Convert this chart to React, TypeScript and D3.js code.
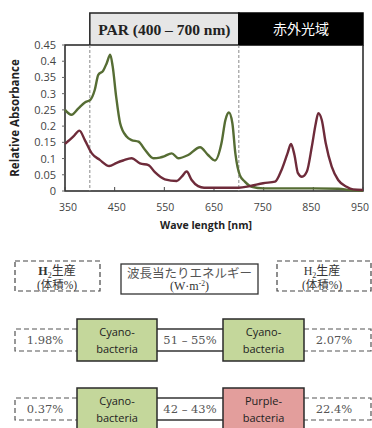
import React from "react";
import * as d3 from "d3";

const width = 372;
const height = 428;

// absorbance spectra
const cyanoNm = [350, 363, 377, 390, 401, 410, 417, 427, 434, 441, 446, 453, 461, 474, 484, 498, 511, 528, 541, 548, 565, 578, 598, 622, 638, 652, 665, 673, 680, 687, 693, 702, 712, 726, 750, 800, 850, 900, 930, 950];
const cyanoAbs = [0.25, 0.235, 0.255, 0.273, 0.281, 0.312, 0.358, 0.371, 0.394, 0.42, 0.384, 0.291, 0.209, 0.168, 0.157, 0.152, 0.127, 0.101, 0.103, 0.106, 0.116, 0.101, 0.111, 0.135, 0.111, 0.094, 0.147, 0.219, 0.242, 0.209, 0.116, 0.049, 0.029, 0.013, 0.008, 0.008, 0.008, 0.007, 0.002, 0.001];

const purpleNm = [350, 367, 379, 390, 404, 420, 439, 454, 467, 484, 501, 518, 531, 551, 575, 585, 595, 605, 618, 630, 700, 722, 749, 773, 786, 798, 805, 812, 819, 827, 837, 847, 855, 860, 867, 875, 887, 900, 917, 930, 950];
const purpleAbs = [0.145, 0.168, 0.186, 0.157, 0.116, 0.096, 0.077, 0.087, 0.094, 0.101, 0.085, 0.08, 0.058, 0.036, 0.031, 0.044, 0.06, 0.034, 0.015, 0.01, 0.01, 0.015, 0.024, 0.029, 0.065, 0.116, 0.145, 0.111, 0.055, 0.044, 0.06, 0.137, 0.209, 0.24, 0.219, 0.147, 0.075, 0.034, 0.013, 0.005, 0.003];

const xTicks = [350, 450, 550, 650, 750, 850, 950];
const yTicks = [0, 0.05, 0.1, 0.15, 0.2, 0.25, 0.3, 0.35, 0.4, 0.45];
const bandEdges = [400, 700];

// lower diagram
const leftPct = ["1.98%", "0.37%"];
const rightPct = ["2.07%", "22.4%"];
const middleLabels = ["51 – 55%", "42 – 43%"];
const leftOrg = ["Cyano-|bacteria", "Cyano-|bacteria"];
const rightOrg = ["Cyano-|bacteria", "Purple-|bacteria"];

const x = d3.scaleLinear().domain([350, 950]).range([65, 363]);
const y = d3.scaleLinear().domain([0, 0.45]).range([191, 45]);
// tick labels sit a little inside the axis ends
const xLabel = d3.scaleLinear().domain([350, 950]).range([68, 360]);

const line = d3
  .line<[number, number]>()
  .x((d) => x(d[0]))
  .y((d) => y(d[1]))
  .curve(d3.curveMonotoneX);

const serif = "'Liberation Serif', 'DejaVu Serif', serif";
const pctFont = "'DejaVu Serif', serif";
const sans = "'Open Sans', sans-serif";
const cjk = "'Liberation Serif', 'Noto Sans CJK JP', serif";

const greenFill = "#c4d79b";
const redFill = "#e39e9c";

function OrgBox({ x0, x1, y0, y1, fill, label }: any) {
  const [a, b] = label.split("|");
  const cx = (x0 + x1) / 2;
  return (
    <g>
      <rect x={x0} y={y0} width={x1 - x0} height={y1 - y0} fill={fill} stroke="#2a2a2a" strokeWidth={1.5} />
      <text x={cx} y={y0 + 17} textAnchor="middle" fontFamily={sans} fontSize={11} fill="#222">{a}</text>
      <text x={cx} y={y0 + 34} textAnchor="middle" fontFamily={sans} fontSize={11} fill="#222">{b}</text>
    </g>
  );
}

function Row({ i, top }: { i: number; top: number }) {
  const lt = top + 10;
  const lb = top + 32;
  const leftEnd = 157;
  const rightStart = 223;
  const rightEnd = 304;
  const rowFill = i === 0 ? greenFill : redFill;
  return (
    <g>
      {/* dashed side boxes */}
      <path d={`M77,${lt} H15 V${lb} H77`} fill="none" stroke="#555" strokeDasharray="5,3" strokeWidth={1.2} />
      <path d={`M${rightEnd},${lt} H371 V${lb} H${rightEnd}`} fill="none" stroke="#555" strokeDasharray="5,3" strokeWidth={1.2} />
      {/* connector */}
      <line x1={leftEnd} x2={rightStart} y1={lt} y2={lt} stroke="#333" strokeWidth={1.5} />
      <line x1={leftEnd} x2={rightStart} y1={lb} y2={lb} stroke="#333" strokeWidth={1.5} />
      <OrgBox x0={77} x1={leftEnd} y0={top} y1={top + 42} fill={greenFill} label={leftOrg[i]} />
      <OrgBox x0={rightStart} x1={rightEnd} y0={top} y1={top + 42} fill={rowFill} label={rightOrg[i]} />
      <text x={45} y={top + 25} textAnchor="middle" fontFamily={pctFont} fontSize={11.5} fill="#555">{leftPct[i]}</text>
      <text x={190} y={top + 25} textAnchor="middle" fontFamily={pctFont} fontSize={11.5} fill="#555">{middleLabels[i]}</text>
      <text x={334} y={top + 25} textAnchor="middle" fontFamily={pctFont} fontSize={11.5} fill="#555">{rightPct[i]}</text>
    </g>
  );
}

export default function App() {
  const cyano = cyanoNm.map((n, i) => [n, cyanoAbs[i]] as [number, number]);
  const purple = purpleNm.map((n, i) => [n, purpleAbs[i]] as [number, number]);

  return (
    <svg width={width} height={height} style={{ position: "absolute", left: 0, top: 0, background: "#fff" }}>
      {/* band header */}
      <rect x={x(400)} y={13} width={x(700) - x(400)} height={32} fill="#e6e6e6" stroke="#222" strokeWidth={1.5} />
      <rect x={x(700)} y={13} width={x(950) - x(700)} height={32} fill="#000" stroke="#000" strokeWidth={1.5} />
      <text x={(x(400) + x(700)) / 2} y={35} textAnchor="middle" fontFamily={serif} fontWeight="bold" fontSize={15.5} fill="#222">
        PAR (400 – 700 nm)
      </text>
      <text x={(x(700) + x(950)) / 2} y={34} textAnchor="middle" fontFamily="'Noto Sans CJK JP', sans-serif" fontSize={14} fill="#fff">
        赤外光域
      </text>

      {/* frame */}
      <path d={`M${x(400)},${y(0.45)} H${x(350)} V${y(0)} H${x(950)} V${y(0.45)}`} fill="none" stroke="#222" strokeWidth={1.5} />

      {bandEdges.map((b) => (
        <line key={b} x1={x(b)} x2={x(b)} y1={y(0.45)} y2={y(0)} stroke="#888" strokeDasharray="3,2" strokeWidth={1} />
      ))}

      {yTicks.map((t) => (
        <g key={t}>
          <line x1={x(350) - 3} x2={x(350)} y1={y(t)} y2={y(t)} stroke="#666" />
          <text x={56} y={y(t) + 4} textAnchor="end" fontFamily={sans} fontSize={11} fill="#444">
            {t === 0 ? "0" : String(t)}
          </text>
        </g>
      ))}
      {xTicks.map((t) => (
        <g key={t}>
          <line x1={x(t)} x2={x(t)} y1={y(0)} y2={y(0) - 4} stroke="#444" />
          <text x={xLabel(t)} y={211} textAnchor="middle" fontFamily={sans} fontSize={10.5} fill="#444">{t}</text>
        </g>
      ))}

      <text x={206} y={229} textAnchor="middle" fontFamily={sans} fontWeight="bold" fontSize={10.5} fill="#222">
        Wave length [nm]
      </text>
      <text transform="translate(19,118) rotate(-90)" textAnchor="middle" fontFamily={sans} fontWeight="bold" fontSize={11.5} fill="#222">
        Relative Absorbance
      </text>

      <path d={line(cyano) || ""} fill="none" stroke="#566d34" strokeWidth={2.4} strokeLinejoin="round" />
      <path d={line(purple) || ""} fill="none" stroke="#6e2b3a" strokeWidth={2.4} strokeLinejoin="round" />

      {/* header boxes of lower diagram */}
      <rect x={15} y={261} width={85} height={30} fill="none" stroke="#444" strokeDasharray="5,3" strokeWidth={1.2} />
      <text x={57} y={274.5} textAnchor="middle" fontFamily={cjk} fontSize={12} fill="#333">
        <tspan fontWeight="bold">H</tspan><tspan fontSize={8} dy={3}>2</tspan><tspan dy={-3}>生産</tspan>
      </text>
      <text x={57} y={288.5} textAnchor="middle" fontFamily={cjk} fontSize={11.5} fill="#333">(体積%)</text>

      <rect x={121} y={264} width={137} height={30} fill="none" stroke="#333" strokeWidth={1.3} />
      <text x={189.5} y={277.5} textAnchor="middle" fontFamily={cjk} fontSize={12.5} fill="#555">波長当たりエネルギー</text>
      <text x={189.5} y={290} textAnchor="middle" fontFamily={cjk} fontSize={12} fill="#333">
        (W·m<tspan fontSize={7.5} dy={-4}>-2</tspan><tspan dy={4}>)</tspan>
      </text>

      <rect x={277} y={261} width={94} height={30} fill="none" stroke="#444" strokeDasharray="5,3" strokeWidth={1.2} />
      <text x={322} y={274.5} textAnchor="middle" fontFamily={cjk} fontSize={12} fill="#333">
        H<tspan fontSize={8} dy={3}>2</tspan><tspan dy={-3}>生産</tspan>
      </text>
      <text x={322} y={288.5} textAnchor="middle" fontFamily={cjk} fontSize={11.5} fill="#333">(体積%)</text>

      <Row i={0} top={319} />
      <Row i={1} top={388} />
    </svg>
  );
}
